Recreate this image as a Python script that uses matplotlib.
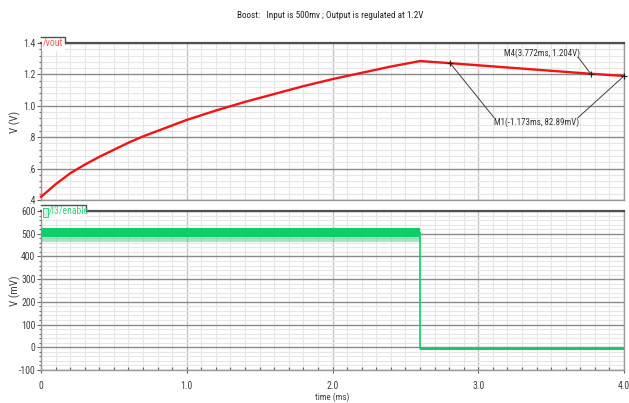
import matplotlib
matplotlib.use("Agg")
import matplotlib.pyplot as plt
from matplotlib.ticker import MultipleLocator, FixedLocator, FixedFormatter
from matplotlib.patches import Rectangle
from matplotlib import font_manager
from matplotlib.font_manager import FontProperties

# pick the narrowest regular sans font available
def pick_narrow():
    fl = font_manager.fontManager.ttflist
    def ok(f):
        return f.style == 'normal' and f.weight in (400, 'normal', 'regular', 'book')
    for key in ['Liberation Sans Narrow', 'Roboto Condensed', 'Noto Sans Condensed',
                'Open Sans Condensed']:
        for f in fl:
            if f.name == key and ok(f):
                return f.fname
    for f in fl:
        if ('Narrow' in f.name or 'Condensed' in f.name) and ok(f) and 'Mono' not in f.name:
            return f.fname
    for f in fl:
        if f.name == 'DejaVu Sans' and f.stretch == 'condensed' and ok(f):
            return f.fname
    for f in fl:
        if f.stretch in ('condensed', 'semi-condensed', 'extra-condensed') and ok(f) \
                and 'Mono' not in f.name and 'Serif' not in f.name:
            return f.fname
    return None

_fn = pick_narrow()
def FP(size):
    if _fn:
        return FontProperties(fname=_fn, size=size)
    return FontProperties(family='DejaVu Sans', size=size * 0.85)

# ---- data ----
vout_t = [0, 0.1, 0.2, 0.3, 0.4, 0.5, 0.6, 0.7, 0.8, 0.9, 1.0, 1.2, 1.4, 1.6,
          1.8, 2.0, 2.2, 2.4, 2.6, 2.8, 3.0, 3.5, 3.772, 4.0]
vout_v = [0.42, 0.50, 0.57, 0.625, 0.675, 0.72, 0.765, 0.805, 0.84, 0.875,
          0.91, 0.97, 1.025, 1.075, 1.125, 1.17, 1.21, 1.25, 1.285, 1.272,
          1.258, 1.223, 1.204, 1.19]

enable_on_t = [0.0, 2.6]
enable_on_hi = [525, 525]
enable_on_mid = [486, 486]
enable_on_lo = [462, 462]
enable_off_t = [2.6, 4.0]
enable_off_hi = [0, 0]
enable_off_lo = [-11, -11]
edge_t = 2.6
edge_levels = [505, -5]

m1 = (2.806, 1.273)
m4 = (3.772, 1.204)
m_end = (4.0, 1.19)

top_yticks = [0.4, 0.6, 0.8, 1.0, 1.2, 1.4]
top_ylabels = ['.4', '.6', '.8', '1.0', '1.2', '1.4']
bot_yticks = [-100, 0, 100, 200, 300, 400, 500, 600]
xticks = [0, 1.0, 2.0, 3.0, 4.0]
xlabels = ['0', '1.0', '2.0', '3.0', '4.0']

title = "Boost:   Input is 500mv ; Output is regulated at 1.2V"

RED = '#f01414'
GREEN = '#10cc6a'
TXT = '#404040'

W, H = 629, 403
fig = plt.figure(figsize=(W / 100, H / 100), dpi=100)

def frac(l, t, r, b):
    return [l / W, 1 - b / H, (r - l) / W, (b - t) / H]

ax1 = fig.add_axes(frac(41, 43, 624, 200))
ax2 = fig.add_axes(frac(41, 211, 624, 370))

def style(ax, ymin, ymax, yt, ylab, yminor):
    ax.set_xlim(0, 4.0)
    ax.set_ylim(ymin, ymax)
    ax.xaxis.set_major_locator(FixedLocator(xticks))
    ax.xaxis.set_minor_locator(MultipleLocator(0.1))
    ax.yaxis.set_major_locator(FixedLocator(yt))
    ax.yaxis.set_major_formatter(FixedFormatter(ylab))
    ax.yaxis.set_minor_locator(MultipleLocator(yminor))
    ax.grid(which='minor', color='#e6e6e6', lw=0.8)
    ax.grid(which='major', axis='y', color='#8a8a8a', lw=1.0)
    ax.grid(which='major', axis='x', color='#c4c4c4', lw=1.0)
    ax.set_axisbelow(True)
    for s in ['left', 'right', 'bottom']:
        ax.spines[s].set_color('#9a9a9a')
        ax.spines[s].set_linewidth(1.0)
    ax.spines['top'].set_color('#505050')
    ax.spines['top'].set_linewidth(1.6)
    ax.tick_params(axis='y', which='major', direction='out', length=3, width=0.8,
                   colors='#606060', labelcolor=TXT, pad=1)
    ax.tick_params(axis='y', which='minor', direction='out', length=1.5, width=0.8,
                   colors='#606060')
    ax.tick_params(axis='x', which='both', direction='out', length=3, width=0.8,
                   colors='#606060', labelcolor=TXT)

style(ax1, 0.4, 1.4, top_yticks, top_ylabels, 0.04)
style(ax2, -100, 600, bot_yticks, [str(v) for v in bot_yticks], 20)
ax1.tick_params(axis='x', which='both', length=0, labelbottom=False)
ax2.xaxis.set_major_formatter(FixedFormatter(xlabels))
ax2.tick_params(axis='x', which='minor', length=2, direction='in')
ax2.tick_params(axis='x', which='major', length=4, direction='inout', pad=6)

ax1.set_ylabel('V (V)', fontproperties=FP(8), color=TXT)
ax2.set_ylabel('V (mV)', fontproperties=FP(8), color=TXT)
ax1.yaxis.set_label_coords(-0.034, 0.5)
ax2.yaxis.set_label_coords(-0.034, 0.5)
ax2.set_xlabel('time (ms)', fontproperties=FP(6.5), color=TXT, labelpad=1)

# ---- vout ----
ax1.plot(vout_t, vout_v, color=RED, lw=1.7, clip_on=False, zorder=3)

for (mx, my) in [m1, m4, m_end]:
    ax1.plot(mx, my, marker='+', color='#202020', ms=5, mew=0.8, zorder=5, clip_on=False)

ax1.text(3.18, 1.336, 'M4(3.772ms, 1.204V)', fontproperties=FP(6.4), color='#303030',
         ha='left', va='center')
ax1.plot([3.685, m4[0]], [1.31, m4[1]], color='#404040', lw=0.7, zorder=4)
ax1.text(3.11, 0.898, 'M1(-1.173ms, 82.89mV)', fontproperties=FP(6.4), color='#303030',
         ha='left', va='center')
ax1.plot([3.108, m1[0]], [0.925, m1[1]], color='#404040', lw=0.7, zorder=4)
ax1.plot([3.685, m_end[0]], [0.925, m_end[1]], color='#404040', lw=0.7, zorder=4)

# ---- enable ----
ax2.fill_between(enable_on_t, enable_on_lo, enable_on_mid, color=GREEN, alpha=0.4, lw=0, zorder=3)
ax2.fill_between(enable_on_t, enable_on_mid, enable_on_hi, color=GREEN, lw=0, zorder=3)
ax2.fill_between(enable_off_t, enable_off_lo, enable_off_hi, color=GREEN, lw=0, zorder=3)
ax2.plot([edge_t, edge_t], edge_levels, color=GREEN, lw=1.2, zorder=3)

# ---- label tabs ----
def tab(ax, x1, text, color, icon=False):
    tr = ax.transAxes
    ax.add_patch(Rectangle((0.002, 0.95), x1 - 0.002, 0.088, transform=tr, fc='white',
                           ec='none', clip_on=False, zorder=6))
    ax.plot([0, x1, x1], [1.04, 1.04, 1.0], transform=tr, color='#505050', lw=1.0,
            clip_on=False, zorder=7)
    tx = 0.003
    if icon:
        ax.add_patch(Rectangle((0.004, 0.965), 0.008, 0.055, transform=tr,
                               fc='#d0f4e0', ec=GREEN, lw=0.6, clip_on=False, zorder=7))
        tx = 0.014
    ax.text(tx, 1.0, text, transform=tr, fontproperties=FP(7), color=color,
            ha='left', va='center', zorder=8)

tab(ax1, 0.042, '/vout', '#ff5a5a')
tab(ax2, 0.078, '/I3/enable', '#40d080', icon=True)

for ax in (ax1, ax2):
    for lab in ax.get_yticklabels() + ax.get_xticklabels():
        lab.set_fontproperties(FP(7))

fig.text(330 / W, 1 - 15 / H, title, fontproperties=FP(6.6), color='#202020',
         ha='center', va='center')

fig.savefig('out.png', dpi=100)
